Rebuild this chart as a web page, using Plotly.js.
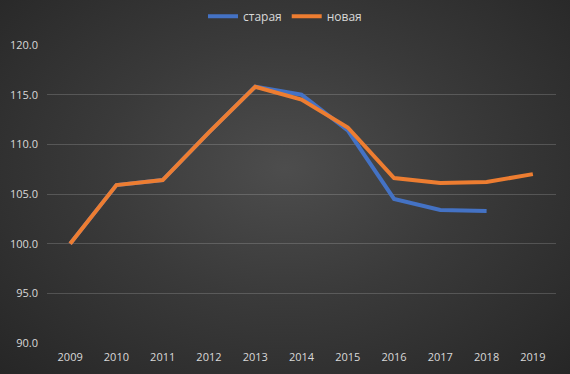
<!DOCTYPE html>
<html><head><meta charset="utf-8">
<script src="https://cdn.plot.ly/plotly-3.0.1.min.js"></script>
<style>
html,body{margin:0;padding:0;}
#chart{width:570px;height:374px;background:radial-gradient(ellipse at 50% 45%, #4d4d4d 0%, #3a3a3a 45%, #262626 100%);}
</style></head>
<body><div id="chart"></div>
<script>
const years = ['2009','2010','2011','2012','2013','2014','2015','2016','2017','2018','2019'];
const oldName = 'старая';
const newName = 'новая';
const oldValues = [100.0,105.9,106.4,111.2,115.8,115.0,111.4,104.5,103.4,103.3,null];
const newValues = [100.0,105.9,106.4,111.2,115.8,114.5,111.7,106.6,106.1,106.2,107.0];

const traces = [
  {x: years, y: oldValues, name: oldName, type: 'scatter', mode: 'lines',
   line: {color: '#4472C4', width: 4}, connectgaps: false},
  {x: years, y: newValues, name: newName, type: 'scatter', mode: 'lines',
   line: {color: '#ED7D31', width: 4}}
];
const layout = {
  width: 570, height: 374,
  paper_bgcolor: 'rgba(0,0,0,0)', plot_bgcolor: 'rgba(0,0,0,0)',
  margin: {l: 47, r: 14, t: 45, b: 31},
  font: {family: 'Open Sans, sans-serif', size: 11, color: '#d9d9d9'},
  showlegend: true,
  legend: {orientation: 'h', x: 0.5, xanchor: 'center', xref: 'container', y: 0.995, yanchor: 'top', yref: 'container',
           font: {size: 12, color: '#d9d9d9'}, itemwidth: 30, bgcolor: 'rgba(0,0,0,0)'},
  xaxis: {type: 'category', range: [-0.5, 10.5], showgrid: false, zeroline: false, showline: false,
          ticks: '', ticklabelstandoff: 6, tickfont: {size: 11, color: '#d9d9d9'}, fixedrange: true},
  yaxis: {range: [90, 120], dtick: 5, tick0: 90, tickformat: '.1f', showgrid: true,
          gridcolor: 'rgba(255,255,255,0.17)', gridwidth: 1, zeroline: false, showline: false,
          ticks: '', ticklabelstandoff: 8, tickfont: {size: 11, color: '#d9d9d9'}, fixedrange: true}
};
Plotly.newPlot('chart', traces, layout, {displayModeBar: false, staticPlot: true});
</script></body></html>
